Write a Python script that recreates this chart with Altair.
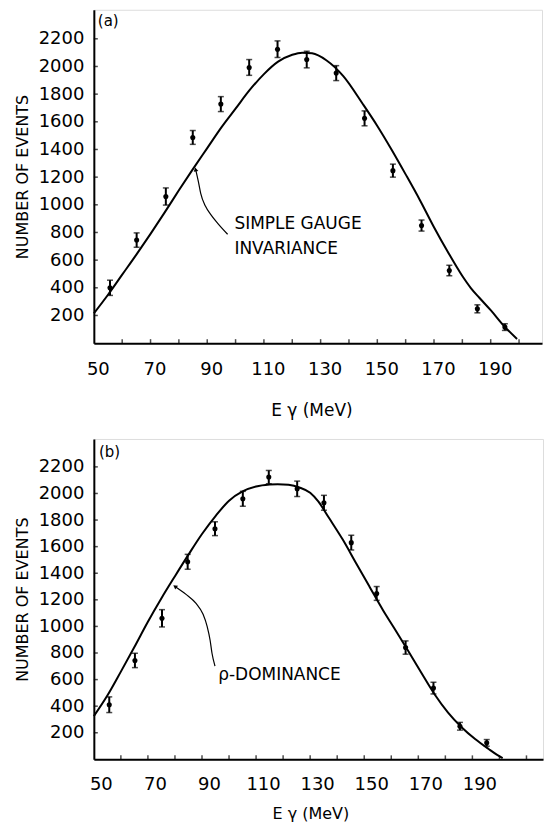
import altair as alt
import pandas as pd

FONT = "DejaVu Sans"
INK = "#000000"

# ---------------- Panel (a): simple gauge invariance ----------------
a_energy = [55.7, 65.1, 75.4, 84.9, 94.8, 104.8, 114.8, 125.1, 135.5, 145.5, 155.5, 165.6, 175.4, 185.3, 195.0]
a_counts = [400, 745, 1060, 1487, 1728, 1993, 2125, 2050, 1952, 1625, 1247, 850, 525, 248, 116]
a_err = [55, 52, 62, 50, 54, 57, 60, 60, 54, 54, 47, 40, 38, 29, 24]

a_fit_x = [50, 55, 60, 65, 70, 75, 80, 85, 90, 95, 100, 105, 110, 115, 120, 123.5, 127, 132, 138,
           145, 150, 155, 160, 165, 170, 175, 180, 183, 186, 190, 195, 199.3]
a_fit_y = [215, 350, 495, 640, 790, 945, 1105, 1260, 1410, 1560, 1695, 1830, 1945, 2035, 2085, 2100, 2095, 2045, 1930,
           1725, 1570, 1400, 1220, 1035, 838, 655, 485, 398, 328, 238, 117, 30]

a_arrow_x = [85.9, 87.0, 87.7, 89.4, 91.2, 93.7, 97.2]
a_arrow_y = [1256, 1155, 1083, 989, 931, 866, 787]
a_head = [85.9, 1256, 348]  # x, y, direction of the arrow tip

a_text = ["(a)", "SIMPLE GAUGE", "INVARIANCE"]
a_text_x = [51.4, 99.6, 99.6]
a_text_y = [2289, 823, 643]
a_text_size = [15, 17, 17]

# ---------------- Panel (b): rho dominance ----------------
b_energy = [55.7, 65.2, 75.2, 84.7, 94.8, 105.1, 114.7, 125.2, 135.1, 145.2, 154.6, 165.3, 175.6, 185.4, 195.3]
b_counts = [411, 744, 1061, 1486, 1735, 1960, 2123, 2035, 1930, 1630, 1248, 841, 536, 249, 124]
b_err = [59, 54, 65, 56, 52, 56, 50, 58, 56, 55, 52, 50, 44, 29, 25]

b_fit_x = [50, 55, 60, 65, 70, 75, 80, 85, 90, 95, 100, 105, 110, 115, 118, 122, 126, 130, 133, 137,
           142, 147, 152, 157, 161, 166, 171, 176, 181, 186, 191, 196, 199, 201.2]
b_fit_y = [325, 480, 660, 845, 1035, 1212, 1378, 1540, 1695, 1830, 1945, 2015, 2052, 2067, 2070, 2065, 2045, 2005, 1940, 1815,
           1655, 1475, 1297, 1120, 990, 825, 655, 490, 352, 242, 153, 78, 36, 10]

b_arrow_x = [80.0, 84.1, 87.8, 90.4, 91.9, 93.0, 93.7, 94.8]
b_arrow_y = [1301, 1241, 1173, 1091, 1001, 896, 798, 701]
b_head = [80.0, 1301, 306]

b_text = ["(b)", "ρ-DOMINANCE"]
b_text_x = [51.9, 96.0]
b_text_y = [2275, 598]
b_text_size = [15, 17]

# ---------------- Axes ----------------
x_labels = [50, 70, 90, 110, 130, 150, 170, 190]
x_ticks = [60, 70, 80, 90, 100, 110, 120, 130, 140, 150, 160, 170, 180, 190, 200, 210]
y_labels = [200, 400, 600, 800, 1000, 1200, 1400, 1600, 1800, 2000, 2200]
x_title = "E γ (MeV)"
y_title = "NUMBER OF EVENTS"


def panel(energy, counts, err, fit_x, fit_y, arr_x, arr_y, head, txt, txt_x, txt_y, txt_size,
          x_max, y_max, width, height, label_offset, title_pad, title_x, label_pad, title_size):
    xs = alt.Scale(domain=[50, x_max], nice=False, zero=False)
    ys = alt.Scale(domain=[0, y_max], nice=False, zero=False)
    xa = alt.Axis(values=x_labels, ticks=False, grid=False, domainWidth=2, domainColor=INK,
                  labelFont=FONT, labelFontSize=18, labelColor=INK, labelPadding=label_pad,
                  labelOffset=label_offset, labelFlush=False, labelOverlap=False, format="d",
                  title=x_title, titleFont=FONT, titleFontSize=title_size, titleFontWeight="normal",
                  titleColor=INK, titlePadding=title_pad, titleX=title_x)
    ya = alt.Axis(values=y_labels, ticks=False, grid=False, domainWidth=2, domainColor=INK,
                  labelFont=FONT, labelFontSize=18, labelColor=INK, labelPadding=10,
                  labelOverlap=False, labelFlush=False, format="d",
                  title=y_title, titleFont=FONT, titleFontSize=16, titleFontWeight="normal",
                  titleColor=INK, titlePadding=8)

    def X(f):
        return alt.X(f, type="quantitative", scale=xs, axis=xa)

    def Y(f):
        return alt.Y(f, type="quantitative", scale=ys, axis=ya)

    pts = pd.DataFrame({"x": energy, "y": counts,
                        "lo": [c - e for c, e in zip(counts, err)],
                        "hi": [c + e for c, e in zip(counts, err)]})
    caps = pd.DataFrame({"x": energy + energy,
                         "y": list(pts["lo"]) + list(pts["hi"])})
    fit = pd.DataFrame({"x": fit_x, "y": fit_y})
    arrow = pd.DataFrame({"x": arr_x, "y": arr_y})
    tip = pd.DataFrame({"x": [head[0]], "y": [head[1]], "a": [head[2]]})
    labels = pd.DataFrame({"x": txt_x, "y": txt_y, "t": txt, "s": txt_size})
    ticks_in = [t for t in x_ticks if t < x_max - 0.5]
    xt = pd.DataFrame({"x": ticks_in, "y": [0] * len(ticks_in)})
    yt = pd.DataFrame({"x": [50] * len(y_labels), "y": y_labels})

    fit_line = alt.Chart(fit).mark_line(color=INK, strokeWidth=2, interpolate="monotone").encode(
        x=X("x"), y=Y("y"))
    arrow_line = alt.Chart(arrow).mark_line(color=INK, strokeWidth=1.2, interpolate="monotone").encode(
        x=X("x"), y=Y("y"))
    arrow_tip = alt.Chart(tip).mark_point(shape="triangle-up", filled=True, color=INK, opacity=1,
                                          size=22).encode(
        x=X("x"), y=Y("y"), angle=alt.Angle("a:Q", scale=None))
    bars = alt.Chart(pts).mark_rule(color=INK, strokeWidth=2).encode(
        x=X("x"), y=Y("lo"), y2=alt.Y2("hi"))
    cap_marks = alt.Chart(caps).mark_tick(orient="horizontal", color=INK, size=6, thickness=1.5).encode(
        x=X("x"), y=Y("y"))
    dots = alt.Chart(pts).mark_circle(color=INK, opacity=1, size=26).encode(
        x=X("x"), y=Y("y"))
    x_tick_marks = alt.Chart(xt).mark_tick(orient="vertical", color=INK, size=4, thickness=1.5,
                                           yOffset=-2).encode(x=X("x"), y=Y("y"))
    y_tick_marks = alt.Chart(yt).mark_tick(orient="horizontal", color=INK, size=4, thickness=1.5,
                                           xOffset=2).encode(x=X("x"), y=Y("y"))
    texts = alt.Chart(labels).mark_text(align="left", baseline="alphabetic", font=FONT,
                                        color=INK).encode(
        x=X("x"), y=Y("y"), text="t:N",
        size=alt.Size("s:Q", scale=None, legend=None))

    return alt.layer(fit_line, arrow_line, arrow_tip, bars, cap_marks, dots, x_tick_marks, y_tick_marks,
                     texts).properties(width=width, height=height)


pa = panel(a_energy, a_counts, a_err, a_fit_x, a_fit_y, a_arrow_x, a_arrow_y, a_head,
           a_text, a_text_x, a_text_y, a_text_size,
           x_max=50 + 449 / 2.84, y_max=2410, width=449, height=334,
           label_offset=4, title_pad=24, title_x=218, label_pad=17, title_size=17)
pb = panel(b_energy, b_counts, b_err, b_fit_x, b_fit_y, b_arrow_x, b_arrow_y, b_head,
           b_text, b_text_x, b_text_y, b_text_size,
           x_max=50 + 450 / 2.709, y_max=2410, width=450, height=321,
           label_offset=7, title_pad=12, title_x=217, label_pad=16, title_size=16)

chart = alt.vconcat(pa, pb, spacing=96, bounds="flush").properties(
    padding={"left": 5, "top": 0, "right": 0, "bottom": 0}
).configure_view(stroke=None).configure(background="white")

chart.save("out.html", embed_options={"renderer": "svg", "actions": False})
